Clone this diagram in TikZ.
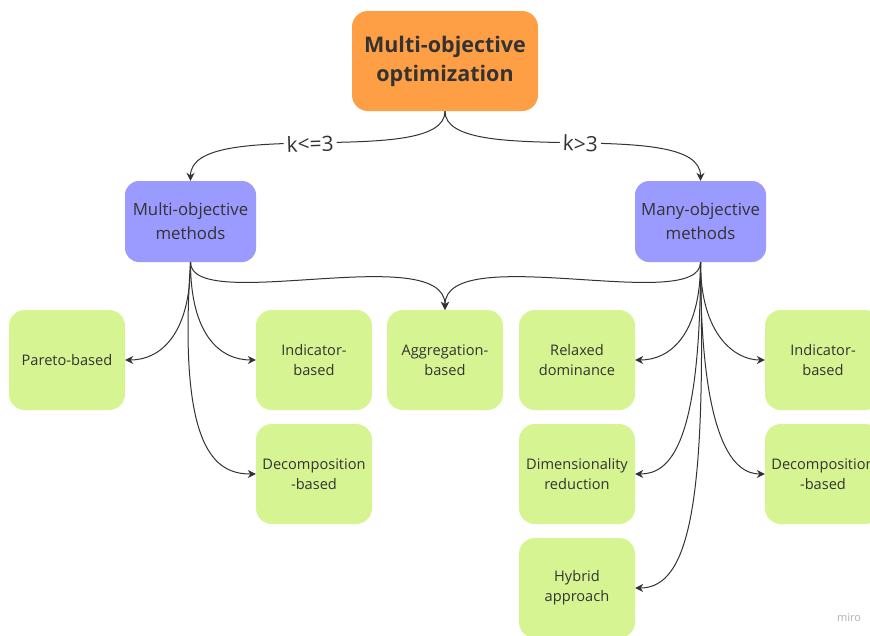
\documentclass[tikz,border=0pt]{standalone}
\usepackage{fontspec}
\setmainfont{Open Sans}
\usetikzlibrary{arrows.meta}
\definecolor{orangebox}{HTML}{FF9F45}
\definecolor{bluebox}{HTML}{9A9AFF}
\definecolor{greenbox}{HTML}{D6F491}
\definecolor{ink}{HTML}{333333}
\definecolor{lineink}{HTML}{333333}
\tikzset{
  topbox/.style={fill=orangebox, rounded corners=16pt, minimum width=186pt, minimum height=100pt, align=center, text=ink, font=\fontsize{21.5}{29}\selectfont\bfseries},
  methbox/.style={fill=bluebox, rounded corners=14pt, minimum width=131pt, minimum height=81pt, align=center, text=ink, font=\fontsize{16.8}{24}\selectfont},
  leafbox/.style={fill=greenbox, rounded corners=16pt, minimum width=116pt, minimum height=100pt, align=center, text=ink, font=\fontsize{14.6}{20}\selectfont},
  conn/.style={draw=lineink, line width=1pt, -{Stealth[length=8pt,width=8pt]}},
  klabel/.style={fill=white, text=ink, font=\fontsize{21}{22}\selectfont, inner sep=3pt},
}
\begin{document}
\begin{tikzpicture}[x=1pt,y=-1pt]
\clip (0,0) rectangle (870,635);
\fill[white] (0,0) rectangle (870,635);
\node[topbox] (top) at (445,61) {Multi-objective\\optimization};
\node[methbox] (multi) at (190.5,221.5) {Multi-objective\\methods};
\node[methbox] (many) at (700.5,221.5) {Many-objective\\methods};
\node[leafbox] (pareto) at (67,360) {Pareto-based};
\node[leafbox] (indl) at (314,360) {Indicator-\\based};
\node[leafbox] (aggr) at (445,360) {Aggregation-\\based};
\node[leafbox] (relax) at (577,360) {Relaxed\\dominance};
\node[leafbox] (indr) at (823,360) {Indicator-\\based};
\node[leafbox] (decl) at (314,474) {Decomposition\\-based};
\node[leafbox] (dimr) at (577,474) {Dimensionality\\reduction};
\node[leafbox] (decr) at (823,474) {Decomposition\\-based};
\node[leafbox] (hyb) at (577,588) {Hybrid\\approach};
\node[text=black!30, font=\fontsize{11}{12}\selectfont] (miro) at (849,618) {miro};

\draw[conn] (top.south) .. controls (445,170) and (190.5,115) .. node[klabel, sloped, pos=0.52] {k<=3} (multi.north);
\draw[conn] (top.south) .. controls (445,170) and (700.5,115) .. node[klabel, sloped, pos=0.52] {k>3} (many.north);

\draw[conn] (multi.south) .. controls (190.5,335) and (160,360) .. (pareto.east);
\draw[conn] (multi.south) .. controls (190.5,335) and (220,360) .. (indl.west);
\draw[conn] (multi.south) .. controls (178,450) and (215,474) .. (decl.west);
\draw[conn] (multi.south) .. controls (190.5,315) and (445,240) .. (aggr.north);

\draw[conn] (many.south) .. controls (700.5,315) and (445,240) .. (aggr.north);
\draw[conn] (many.south) .. controls (700.5,335) and (670,360) .. (relax.east);
\draw[conn] (many.south) .. controls (700.5,335) and (735,360) .. (indr.west);
\draw[conn] (many.south) .. controls (700.5,445) and (670,474) .. (dimr.east);
\draw[conn] (many.south) .. controls (700.5,445) and (735,474) .. (decr.west);
\draw[conn] (many.south) .. controls (706,500) and (690,588) .. (hyb.east);
\end{tikzpicture}
\end{document}
